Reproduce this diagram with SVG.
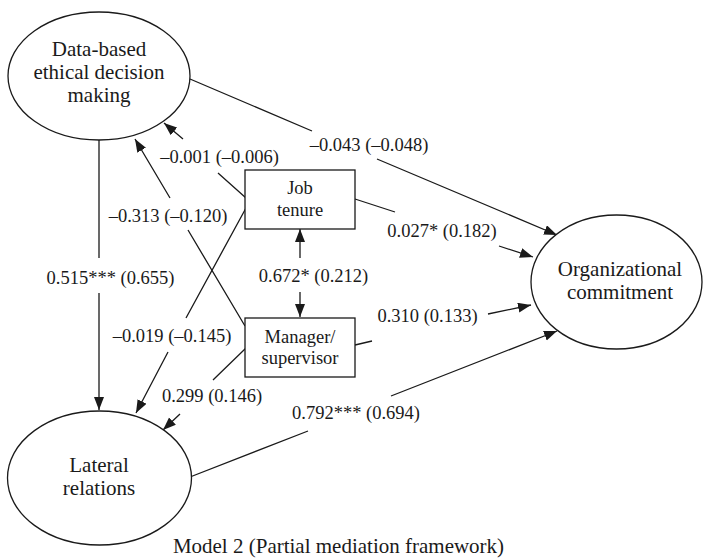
<svg xmlns="http://www.w3.org/2000/svg" width="704" height="558" viewBox="0 0 704 558">
<style>
.shape{fill:#fff;stroke:#1a1a1a;stroke-width:1.3}
.edge{fill:none;stroke:#1a1a1a;stroke-width:1.3}
.arr{marker-end:url(#ah)}
.nl{font-family:"Liberation Serif","Times New Roman",serif;font-size:21px;fill:#1a1a1a;text-anchor:middle}
.bl{font-family:"Liberation Serif","Times New Roman",serif;font-size:18.5px;fill:#1a1a1a;text-anchor:middle}
.el{font-family:"Liberation Serif","Times New Roman",serif;font-size:18.5px;fill:#1a1a1a;text-anchor:middle}
</style>
<defs>
<marker id="ah" markerUnits="userSpaceOnUse" markerWidth="14" markerHeight="11" refX="13" refY="5" orient="auto">
<path d="M0,0 L13,5 L0,10 z" fill="#1a1a1a"/>
</marker>
<marker id="ahs" markerUnits="userSpaceOnUse" markerWidth="14" markerHeight="11" refX="13" refY="5" orient="auto-start-reverse">
<path d="M0,0 L13,5 L0,10 z" fill="#1a1a1a"/>
</marker>
</defs>
<rect width="704" height="558" fill="#fff"/>
<g id="connectors">
<path class="edge arr" d="M190,79 L312,131 M377,159 L557,235"/>
<path class="edge arr" d="M355,199 L395,212 M499,246 L533,257"/>
<path class="edge arr" d="M355,345 L372,341 M488,314 L531,305"/>
<path class="edge arr" d="M190,477 L308,431 M391,396 L557,331"/>
<path class="edge arr" d="M99,140 L99,258 M99,293 L99,410"/>
<path class="edge arr" d="M246,198 L218,173 M183,139 L164,123"/>
<path class="edge arr" d="M245,326 L188,230 M170,198 L135,139"/>
<path class="edge arr" d="M246,208 L186,318 M168,352 L136,413"/>
<path class="edge arr" d="M246,348 L213,380 M180,414 L163,430"/>
<path class="edge" marker-start="url(#ahs)" marker-end="url(#ah)" d="M300,229 L300,258 M300,292 L300,317"/>
</g>
<g id="edge-labels">
<text class="el" x="369" y="151">–0.043 (–0.048)</text>
<text class="el" x="219.5" y="163">–0.001 (–0.006)</text>
<text class="el" x="168" y="222">–0.313 (–0.120)</text>
<text class="el" x="442" y="237">0.027* (0.182)</text>
<text class="el" x="110.5" y="284">0.515*** (0.655)</text>
<text class="el" x="313.5" y="282">0.672* (0.212)</text>
<text class="el" x="172" y="342">–0.019 (–0.145)</text>
<text class="el" x="427.5" y="322">0.310 (0.133)</text>
<text class="el" x="212" y="402">0.299 (0.146)</text>
<text class="el" x="356" y="419">0.792*** (0.694)</text>
</g>
<g id="data-based">
<ellipse class="shape" cx="99" cy="76" rx="91" ry="64"/>
<text class="nl" x="99" y="56">Data-based</text>
<text class="nl" x="99" y="79">ethical decision</text>
<text class="nl" x="99" y="102">making</text>
</g>
<g id="job-tenure">
<rect class="shape" x="245" y="170" width="110" height="59"/>
<text class="bl" x="300" y="194">Job</text>
<text class="bl" x="300" y="216">tenure</text>
</g>
<g id="manager">
<rect class="shape" x="245" y="318" width="110" height="59"/>
<text class="bl" x="300" y="343">Manager/</text>
<text class="bl" x="300" y="364">supervisor</text>
</g>
<g id="org-commitment">
<ellipse class="shape" cx="616.5" cy="282" rx="85.5" ry="67"/>
<text class="nl" x="620" y="276">Organizational</text>
<text class="nl" x="620" y="299">commitment</text>
</g>
<g id="lateral">
<ellipse class="shape" cx="99.5" cy="478" rx="92" ry="67"/>
<text class="nl" x="99" y="472">Lateral</text>
<text class="nl" x="99" y="495">relations</text>
</g>
<text class="nl" x="338.5" y="553">Model 2 (Partial mediation framework)</text>
</svg>
